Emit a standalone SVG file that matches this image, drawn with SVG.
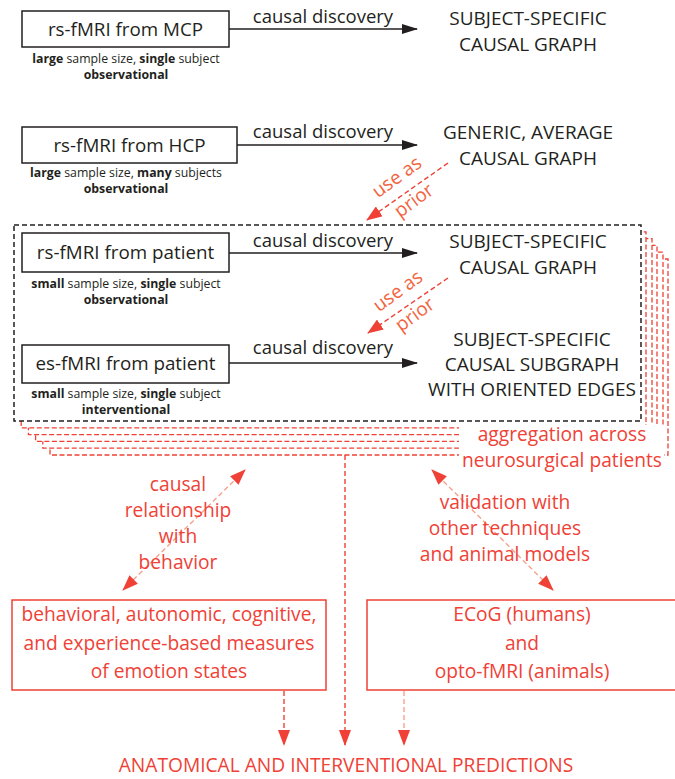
<svg xmlns="http://www.w3.org/2000/svg" width="675" height="779" viewBox="0 0 675 779">
<style>
text{font-family:"Open Sans","Liberation Sans",sans-serif;}
.t{font-size:18.8px;fill:#231f20;text-anchor:middle;}
.c{font-size:18.5px;fill:#231f20;text-anchor:middle;}
.k{font-size:19px;fill:#231f20;text-anchor:middle;}
.s{font-size:12.3px;fill:#231f20;text-anchor:middle;}
.b{font-weight:bold;}
.r{font-size:19.2px;fill:#ef4136;text-anchor:middle;}
.o{font-size:19px;fill:#f26440;text-anchor:middle;}
.box{fill:#fff;stroke:#231f20;stroke-width:1.5;}
.rbox{fill:#fff;stroke:#ef4136;stroke-width:1.5;}
.blk{stroke:#231f20;stroke-width:1.5;fill:none;}
.rf{fill:#fff;stroke:#ef4136;stroke-width:1.3;stroke-dasharray:5 2.5;}
.rd{stroke:#ef4136;stroke-width:1.4;fill:none;stroke-dasharray:5 3;}
.rl{stroke:#f4a28c;stroke-width:1.4;fill:none;stroke-dasharray:5 3;}
</style>
<defs>
<marker id="ab" markerWidth="16" markerHeight="10" refX="15" refY="5" orient="auto" markerUnits="userSpaceOnUse"><path d="M0,0 L16,5 L0,10 Z" fill="#231f20"/></marker>
<marker id="ar" markerWidth="16" markerHeight="12" refX="15" refY="6" orient="auto" markerUnits="userSpaceOnUse"><path d="M0,0 L16,6 L0,12 Z" fill="#ef4136"/></marker>
<marker id="ars" markerWidth="16" markerHeight="12" refX="1" refY="6" orient="auto" markerUnits="userSpaceOnUse"><path d="M16,0 L0,6 L16,12 Z" fill="#ef4136"/></marker>
</defs>

<g id="patient-stack">
<rect class="rf" x="50" y="259" width="618" height="196"/>
<rect class="rf" x="42.8" y="252.2" width="620.2" height="196"/>
<rect class="rf" x="35.6" y="245.4" width="621.4" height="196"/>
<rect class="rf" x="28.4" y="238.6" width="623.6" height="196"/>
<rect class="rf" x="21.2" y="231.8" width="624.8" height="196"/>
<rect x="14" y="225" width="627" height="196" fill="#fff" stroke="#231f20" stroke-width="1.5" stroke-dasharray="5 3"/>
</g>

<g id="aggregation-label">
<rect x="459" y="425" width="205" height="47" fill="#fff"/>
<text class="r" x="562" y="441">aggregation across</text>
<text class="r" x="562" y="467">neurosurgical patients</text>
</g>

<g id="connectors">
<line class="blk" x1="229" y1="29" x2="417" y2="29" marker-end="url(#ab)"/>
<line class="blk" x1="237" y1="145" x2="417" y2="145" marker-end="url(#ab)"/>
<line class="blk" x1="229" y1="253" x2="417" y2="253" marker-end="url(#ab)"/>
<line class="blk" x1="229" y1="363" x2="417" y2="363" marker-end="url(#ab)"/>
<line class="rd" x1="448" y1="163" x2="367" y2="220" marker-end="url(#ar)"/>
<line class="rd" x1="448" y1="278" x2="368" y2="333" marker-end="url(#ar)"/>
<line class="rl" x1="245" y1="470" x2="123" y2="590" marker-start="url(#ars)" marker-end="url(#ar)"/>
<line class="rl" x1="432" y1="470" x2="553" y2="590" marker-start="url(#ars)" marker-end="url(#ar)"/>
<line class="rd" x1="345" y1="455" x2="345" y2="745" marker-end="url(#ar)"/>
<line class="rd" x1="284" y1="691" x2="284" y2="745" marker-end="url(#ar)"/>
<line class="rl" x1="404" y1="691" x2="404" y2="745" marker-end="url(#ar)" stroke="#ef4136" stroke-width="1"/>
<text class="c" x="323" y="23">causal discovery</text>
<text class="c" x="323" y="138">causal discovery</text>
<text class="c" x="323" y="247">causal discovery</text>
<text class="c" x="323" y="354">causal discovery</text>
<g transform="rotate(-36 407 191)">
<text class="o" x="407" y="180">use as</text>
<text class="o" x="407" y="209">prior</text>
</g>
<g transform="rotate(-36 408 305)">
<text class="o" x="408" y="294">use as</text>
<text class="o" x="408" y="323">prior</text>
</g>
<text class="r" x="178" y="491">causal</text>
<text class="r" x="178" y="517">relationship</text>
<text class="r" x="178" y="543">with</text>
<text class="r" x="178" y="569">behavior</text>
<text class="r" x="505" y="509">validation with</text>
<text class="r" x="505" y="535">other techniques</text>
<text class="r" x="505" y="561">and animal models</text>
</g>

<g id="mcp">
<rect class="box" x="22" y="11" width="207" height="36"/>
<text class="t" x="125.5" y="36">rs-fMRI from MCP</text>
<text class="s" x="126" y="63"><tspan class="b">large</tspan> sample size, <tspan class="b">single</tspan> subject</text>
<text class="s b" x="126" y="79">observational</text>
</g>
<g id="mcp-graph">
<text class="k" x="528" y="25">SUBJECT-SPECIFIC</text>
<text class="k" x="528" y="51">CAUSAL GRAPH</text>
</g>

<g id="hcp">
<rect class="box" x="22" y="127" width="215" height="36"/>
<text class="t" x="129.5" y="152">rs-fMRI from HCP</text>
<text class="s" x="126" y="177"><tspan class="b">large</tspan> sample size, <tspan class="b">many</tspan> subjects</text>
<text class="s b" x="126" y="193">observational</text>
</g>
<g id="hcp-graph">
<text class="k" x="528" y="139">GENERIC, AVERAGE</text>
<text class="k" x="528" y="165">CAUSAL GRAPH</text>
</g>

<g id="rs-patient">
<rect class="box" x="22" y="233" width="207" height="39"/>
<text class="t" x="125.5" y="259">rs-fMRI from patient</text>
<text class="s" x="126" y="288"><tspan class="b">small</tspan> sample size, <tspan class="b">single</tspan> subject</text>
<text class="s b" x="126" y="304">observational</text>
</g>
<g id="rs-patient-graph">
<text class="k" x="528" y="248">SUBJECT-SPECIFIC</text>
<text class="k" x="528" y="274">CAUSAL GRAPH</text>
</g>

<g id="es-patient">
<rect class="box" x="22" y="345" width="207" height="38"/>
<text class="t" x="125.5" y="370">es-fMRI from patient</text>
<text class="s" x="126" y="398"><tspan class="b">small</tspan> sample size, <tspan class="b">single</tspan> subject</text>
<text class="s b" x="126" y="414">interventional</text>
</g>
<g id="es-patient-graph">
<text class="k" x="532" y="346">SUBJECT-SPECIFIC</text>
<text class="k" x="532" y="371">CAUSAL SUBGRAPH</text>
<text class="k" x="532" y="396">WITH ORIENTED EDGES</text>
</g>

<g id="behavior-measures">
<rect class="rbox" x="12" y="600" width="314" height="90"/>
<text class="r" x="169" y="621">behavioral, autonomic, cognitive,</text>
<text class="r" x="169" y="650">and experience-based measures</text>
<text class="r" x="169" y="678">of emotion states</text>
</g>

<g id="ecog">
<rect class="rbox" x="367" y="600" width="312" height="90"/>
<text class="r" x="522" y="621">ECoG (humans)</text>
<text class="r" x="522" y="650">and</text>
<text class="r" x="522" y="678">opto-fMRI (animals)</text>
</g>

<g id="predictions">
<text class="r" x="346" y="772">ANATOMICAL AND INTERVENTIONAL PREDICTIONS</text>
</g>
</svg>
